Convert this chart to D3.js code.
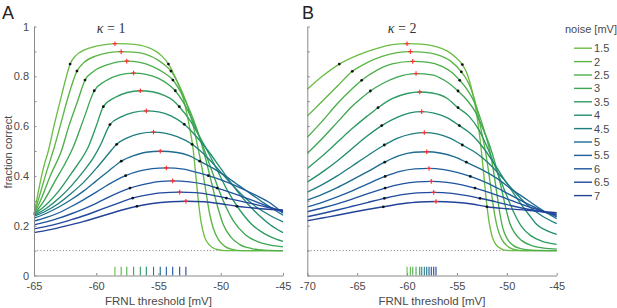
<!DOCTYPE html>
<html><head><meta charset="utf-8">
<script src="https://cdn.jsdelivr.net/npm/d3@7"></script>
<style>body{margin:0;background:#fff}svg{display:block}</style>
</head><body><svg id="c" width="617" height="308"></svg>
<script>
const noise = [1.5,2,2.5,3,3.5,4,4.5,5,5.5,6,6.5,7];
const colors = ["#6cbd45","#5cb646","#4daf4a","#3ca654","#2e9b62","#238d70","#1f7d80","#1d6c90","#1e5e9c","#1f529f","#21499d","#234398"];

const curvesA = [
 [[-65,0.245],[-64.6,0.35],[-64.2,0.44],[-63.85,0.5],[-63.4,0.6],[-62.9,0.7],[-62.5,0.78],[-62.1,0.849],[-61.6,0.885],[-61,0.905],[-60,0.921],[-59,0.929],[-58.5,0.931],[-57.5,0.93],[-56.5,0.925],[-55.8,0.915],[-55.2,0.9],[-54.7,0.88],[-54.2,0.849],[-53.6,0.79],[-53,0.71],[-52.6,0.62],[-52.2,0.5],[-52,0.4],[-51.8,0.3],[-51.6,0.22],[-51.3,0.155],[-50.9,0.122],[-50.4,0.106],[-49.6,0.1],[-45,0.1]],
 [[-65,0.245],[-64.5,0.33],[-64,0.415],[-63.4,0.51],[-62.9,0.6],[-62.3,0.71],[-61.55,0.821],[-61,0.855],[-60,0.882],[-59,0.895],[-58,0.899],[-57,0.897],[-56,0.888],[-55,0.864],[-54.5,0.845],[-54,0.821],[-53.4,0.77],[-52.8,0.7],[-52.3,0.62],[-51.9,0.53],[-51.5,0.43],[-51.2,0.34],[-50.9,0.25],[-50.6,0.19],[-50.2,0.145],[-49.7,0.118],[-49.1,0.105],[-48.3,0.1],[-45,0.1]],
 [[-65,0.245],[-64.4,0.31],[-63.7,0.4],[-62.8,0.5],[-62.2,0.6],[-61.5,0.7],[-60.9,0.785],[-60.2,0.82],[-59,0.848],[-57.55,0.861],[-56.5,0.856],[-55.5,0.84],[-54.5,0.812],[-53.84,0.785],[-53.2,0.735],[-52.5,0.665],[-51.9,0.585],[-51.3,0.485],[-50.8,0.385],[-50.3,0.285],[-49.8,0.205],[-49.2,0.155],[-48.5,0.125],[-47.5,0.108],[-46.5,0.102],[-45,0.1]],
 [[-65,0.245],[-64.2,0.3],[-63.3,0.38],[-62.5,0.45],[-61.9,0.51],[-61,0.63],[-60.16,0.742],[-59.3,0.78],[-58.2,0.805],[-57,0.813],[-56,0.808],[-55,0.792],[-54.2,0.767],[-53.65,0.742],[-53,0.695],[-52.2,0.615],[-51.4,0.515],[-50.6,0.405],[-49.8,0.3],[-49,0.22],[-48,0.163],[-47,0.135],[-46,0.122],[-45,0.115]],
 [[-65,0.245],[-64,0.285],[-63,0.34],[-62,0.41],[-61.3,0.46],[-60.7,0.51],[-60,0.6],[-59.43,0.678],[-58.5,0.715],[-57.5,0.735],[-56.46,0.742],[-55.5,0.738],[-54.5,0.722],[-53.8,0.702],[-53.33,0.678],[-52.5,0.625],[-51.5,0.54],[-50.5,0.445],[-49.5,0.345],[-48.5,0.265],[-47.5,0.205],[-46.5,0.168],[-45.5,0.145],[-45,0.137]],
 [[-65,0.242],[-64,0.27],[-63,0.31],[-62,0.36],[-61,0.42],[-60.2,0.475],[-59.65,0.525],[-58.9,0.606],[-58,0.637],[-57,0.655],[-55.98,0.661],[-55,0.657],[-54,0.641],[-52.93,0.607],[-52,0.56],[-51,0.5],[-50,0.43],[-49,0.36],[-48,0.297],[-47,0.245],[-46,0.203],[-45,0.172]],
 [[-65,0.238],[-64,0.26],[-63,0.29],[-62,0.33],[-61,0.375],[-60,0.43],[-59,0.49],[-58.36,0.527],[-57.5,0.553],[-56.5,0.57],[-55.4,0.576],[-54.5,0.572],[-53.5,0.558],[-52.3,0.527],[-51,0.47],[-50,0.415],[-49,0.36],[-48,0.31],[-47,0.27],[-46,0.24],[-45,0.215]],
 [[-65,0.23],[-64,0.25],[-63,0.275],[-62,0.305],[-61,0.34],[-60,0.38],[-59,0.42],[-57.99,0.459],[-57,0.481],[-56,0.495],[-54.86,0.499],[-53.5,0.494],[-52.5,0.48],[-51.69,0.459],[-50.5,0.427],[-49.5,0.395],[-48.5,0.36],[-47.5,0.325],[-46.5,0.29],[-45.5,0.258],[-45,0.242]],
 [[-65,0.218],[-64,0.233],[-63,0.252],[-62,0.277],[-61,0.305],[-60,0.335],[-59,0.366],[-57.64,0.401],[-56.5,0.42],[-55.5,0.429],[-54.37,0.432],[-53,0.427],[-52,0.415],[-51,0.401],[-49.5,0.375],[-48,0.342],[-47,0.318],[-46,0.29],[-45,0.25]],
 [[-65,0.203],[-64,0.215],[-63,0.23],[-62,0.248],[-61,0.268],[-60,0.29],[-59,0.315],[-57.29,0.351],[-56,0.368],[-55,0.377],[-53.86,0.38],[-52.5,0.376],[-51.3,0.366],[-50.28,0.351],[-49,0.33],[-48,0.312],[-47,0.293],[-46,0.274],[-45,0.255]],
 [[-65,0.187],[-64,0.197],[-63,0.209],[-62,0.224],[-61,0.24],[-60,0.258],[-59,0.277],[-58,0.295],[-57.07,0.311],[-56,0.323],[-54.8,0.332],[-53.3,0.335],[-52,0.333],[-50.8,0.324],[-49.55,0.311],[-48,0.294],[-47,0.283],[-46,0.271],[-45,0.259]],
 [[-65,0.172],[-64,0.181],[-63,0.192],[-62,0.204],[-61,0.217],[-60,0.232],[-59,0.247],[-58,0.262],[-56.73,0.278],[-55.5,0.289],[-54,0.296],[-52.8,0.298],[-51.3,0.296],[-50,0.288],[-48.7,0.278],[-47.5,0.272],[-46.5,0.267],[-45,0.263]]
];
const peaksA = [[-58.5,0.931],[-58,0.899],[-57.55,0.861],[-57,0.813],[-56.46,0.742],[-55.98,0.661],[-55.4,0.576],[-54.86,0.499],[-54.37,0.432],[-53.86,0.38],[-53.3,0.335],[-52.8,0.298]];
const dotsLeftA = [[-62.1,0.849],[-61.55,0.821],[-60.9,0.785],[-60.16,0.742],[-59.43,0.678],[-58.9,0.606],[-58.36,0.527],[-57.99,0.459],[-57.64,0.401],[-57.29,0.351],[-57.07,0.311],[-56.73,0.278]];
const dotsRightA = [[-54.2,0.849],[-54,0.821],[-53.84,0.785],[-53.65,0.742],[-53.33,0.678],[-52.93,0.607],[-52.3,0.527],[-51.69,0.459],[-51,0.401],[-50.28,0.351],[-49.55,0.311],[-48.7,0.278]];

const curvesB = [
 [[-70,0.748],[-68.5,0.8],[-66.79,0.849],[-65,0.884],[-63,0.912],[-61.5,0.927],[-60,0.931],[-58.5,0.929],[-57,0.918],[-56,0.902],[-55.2,0.879],[-54.46,0.847],[-54,0.812],[-53.6,0.76],[-53.2,0.69],[-52.85,0.6],[-52.55,0.5],[-52.3,0.4],[-52.05,0.3],[-51.8,0.22],[-51.5,0.16],[-51.1,0.125],[-50.6,0.108],[-50,0.101],[-49.2,0.1],[-45,0.1]],
 [[-70,0.64],[-68.5,0.7],[-67,0.76],[-65.49,0.82],[-64,0.855],[-62.5,0.88],[-61,0.895],[-59.67,0.899],[-58.5,0.897],[-57,0.887],[-55.6,0.86],[-54.56,0.818],[-54,0.785],[-53.5,0.74],[-53,0.67],[-52.6,0.59],[-52.15,0.5],[-51.8,0.41],[-51.5,0.32],[-51.2,0.24],[-50.9,0.185],[-50.5,0.145],[-50,0.12],[-49.3,0.105],[-48.3,0.1],[-45,0.1]],
 [[-70,0.555],[-68.5,0.62],[-67,0.69],[-65.5,0.75],[-64.55,0.784],[-63,0.825],[-61.5,0.85],[-59.43,0.86],[-58,0.857],[-56.5,0.84],[-55.5,0.815],[-54.72,0.784],[-54,0.748],[-53.3,0.7],[-52.6,0.625],[-52.1,0.56],[-51.65,0.49],[-51.3,0.41],[-51,0.33],[-50.7,0.25],[-50.4,0.19],[-50,0.15],[-49.4,0.122],[-48.6,0.108],[-47.5,0.102],[-45,0.1]],
 [[-70,0.49],[-68.5,0.55],[-67,0.615],[-65.5,0.68],[-64.5,0.715],[-63.68,0.741],[-62.5,0.77],[-61,0.797],[-59.1,0.811],[-57.5,0.806],[-56.3,0.785],[-54.89,0.741],[-54,0.705],[-53.2,0.66],[-52.4,0.59],[-51.7,0.52],[-51.1,0.44],[-50.6,0.36],[-50.1,0.27],[-49.7,0.21],[-49.2,0.17],[-48.5,0.14],[-47.5,0.12],[-46.3,0.11],[-45,0.106]],
 [[-70,0.43],[-68.5,0.48],[-67,0.535],[-65.5,0.59],[-64,0.64],[-62.91,0.674],[-61.5,0.71],[-60,0.731],[-58.73,0.737],[-57.5,0.733],[-56,0.712],[-54.89,0.674],[-53.8,0.64],[-52.8,0.585],[-51.8,0.5],[-50.9,0.41],[-50,0.32],[-49.2,0.245],[-48.5,0.195],[-47.6,0.16],[-46.5,0.138],[-45,0.125]],
 [[-70,0.375],[-68.5,0.415],[-67,0.46],[-65.5,0.51],[-64,0.56],[-62.54,0.602],[-61,0.635],[-59.7,0.653],[-58.53,0.658],[-57.3,0.652],[-56,0.634],[-54.76,0.602],[-53.5,0.565],[-52.3,0.51],[-51.2,0.445],[-50,0.37],[-48.8,0.3],[-47.8,0.245],[-47,0.205],[-46,0.18],[-45,0.165]],
 [[-70,0.335],[-68.5,0.365],[-67,0.4],[-65.5,0.44],[-64,0.48],[-62.28,0.524],[-61,0.551],[-59.5,0.569],[-58.27,0.574],[-57,0.569],[-55.7,0.552],[-54.46,0.524],[-53,0.49],[-51.8,0.45],[-50.5,0.395],[-49.2,0.335],[-48,0.285],[-46.5,0.24],[-45,0.208]],
 [[-70,0.303],[-68.5,0.326],[-67,0.353],[-65.5,0.384],[-64,0.416],[-62.24,0.455],[-60.8,0.481],[-59.3,0.495],[-58.03,0.497],[-56.7,0.492],[-55.3,0.477],[-54.06,0.455],[-52.5,0.425],[-51,0.39],[-49.5,0.346],[-48,0.305],[-46.5,0.264],[-45,0.228]],
 [[-70,0.276],[-68.5,0.294],[-67,0.316],[-65.5,0.34],[-64,0.367],[-62.2,0.398],[-60.7,0.418],[-59.2,0.428],[-57.8,0.43],[-56.3,0.425],[-54.9,0.413],[-53.66,0.398],[-52,0.372],[-50.5,0.342],[-49,0.31],[-47.5,0.28],[-46,0.253],[-45,0.235]],
 [[-70,0.256],[-68.5,0.271],[-67,0.288],[-65.5,0.307],[-64,0.328],[-62.2,0.351],[-60.5,0.368],[-59,0.376],[-57.57,0.378],[-56,0.374],[-54.5,0.364],[-53.19,0.351],[-51.5,0.33],[-50,0.308],[-48.5,0.286],[-47,0.266],[-45,0.241]],
 [[-70,0.236],[-68.5,0.249],[-67,0.263],[-65.5,0.278],[-64,0.293],[-62.28,0.31],[-60.5,0.325],[-59,0.332],[-57.33,0.334],[-55.5,0.33],[-54,0.321],[-52.69,0.31],[-51,0.295],[-49.5,0.28],[-48,0.267],[-46.5,0.256],[-45,0.246]],
 [[-70,0.22],[-68.5,0.231],[-67,0.242],[-65.5,0.254],[-64,0.265],[-62.38,0.276],[-60.5,0.288],[-58.8,0.295],[-57.1,0.297],[-55.2,0.294],[-53.5,0.287],[-51.99,0.276],[-50,0.268],[-48,0.262],[-46.5,0.257],[-45,0.252]]
];
const peaksB = [[-60,0.931],[-59.67,0.899],[-59.43,0.86],[-59.1,0.811],[-58.73,0.737],[-58.53,0.658],[-58.27,0.574],[-58.03,0.497],[-57.8,0.43],[-57.57,0.378],[-57.33,0.334],[-57.1,0.297]];
const dotsLeftB = [[-66.79,0.849],[-65.49,0.82],[-64.55,0.784],[-63.68,0.741],[-62.91,0.674],[-62.54,0.602],[-62.28,0.524],[-62.24,0.455],[-62.2,0.398],[-62.2,0.351],[-62.28,0.31],[-62.38,0.276]];
const dotsRightB = [[-54.46,0.847],[-54.56,0.818],[-54.72,0.784],[-54.89,0.741],[-54.89,0.674],[-54.76,0.602],[-54.46,0.524],[-54.06,0.455],[-53.66,0.398],[-53.19,0.351],[-52.69,0.31],[-51.99,0.276]];

const xTicksA = [-65,-60,-55,-50,-45];
const xTicksB = [-70,-65,-60,-55,-50,-45];
const yTicks = [0,0.1,0.2,0.3,0.4,0.5,0.6,0.7,0.8,0.9,1];
const yLabelTicks = [0,0.2,0.4,0.6,0.8,1];
const chance = 0.1;

const svg = d3.select("#c");
const FONT = "'Liberation Sans', Arial, Helvetica, sans-serif";
const axisCol = "#8a8a8a", textCol = "#4a4a4a";
const y = d3.scaleLinear().domain([0,1]).range([275.5,26.5]);

function panel(opts){
  const x = d3.scaleLinear().domain(opts.xdom).range(opts.xr);
  const g = svg.append("g");
  // chance line
  g.append("line").attr("x1",x(opts.xdom[0])).attr("x2",x(opts.xdom[1]))
    .attr("y1",y(chance)).attr("y2",y(chance))
    .attr("stroke","#8c8c8c").attr("stroke-width",1).attr("stroke-dasharray","1.2,2");
  // rug ticks at peak positions
  g.selectAll("line.rug").data(opts.peaks).join("line").attr("class","rug")
    .attr("x1",d=>x(d[0])).attr("x2",d=>x(d[0]))
    .attr("y1",y(0)).attr("y2",y(0.035))
    .attr("stroke",(d,i)=>colors[i]).attr("stroke-width",1.1);
  const line = d3.line().x(d=>x(d[0])).y(d=>y(d[1])).curve(d3.curveMonotoneX);
  g.selectAll("path.curve").data(opts.curves).join("path").attr("class","curve")
    .attr("d",line).attr("fill","none")
    .attr("stroke",(d,i)=>colors[i]).attr("stroke-width",1.35);
  const dots = opts.dotsL.concat(opts.dotsR);
  g.selectAll("circle.dot").data(dots).join("circle").attr("class","dot")
    .attr("cx",d=>x(d[0])).attr("cy",d=>y(d[1])).attr("r",1.4).attr("fill","#111");
  const plus = g.selectAll("g.plus").data(opts.peaks).join("g").attr("class","plus")
    .attr("transform",d=>`translate(${x(d[0])},${y(d[1])})`);
  plus.append("line").attr("x1",-2.3).attr("x2",2.3).attr("stroke","#ff2a2a").attr("stroke-width",1.1);
  plus.append("line").attr("y1",-2.3).attr("y2",2.3).attr("stroke","#ff2a2a").attr("stroke-width",1.1);

  // axes
  const ya = d3.axisLeft(y).tickValues(yTicks).tickSizeInner(-2.5).tickSizeOuter(0).tickPadding(5)
    .tickFormat(d => opts.yLabels && yLabelTicks.some(t=>Math.abs(t-d)<1e-9) ? String(+d.toFixed(1)) : "");
  const yg = g.append("g").attr("transform",`translate(${opts.xr[0]},0)`).call(ya);
  const xa = d3.axisBottom(x).tickValues(opts.xticks).tickSizeInner(-2.5).tickSizeOuter(0).tickPadding(7)
    .tickFormat(d=>String(d));
  const xg = g.append("g").attr("transform",`translate(0,${y(0)})`).call(xa);
  [yg,xg].forEach(a=>{
    a.select(".domain").attr("stroke",axisCol);
    a.selectAll(".tick line").attr("stroke",axisCol);
    a.selectAll("text").attr("fill",textCol).style("font-family",FONT).style("font-size","11px");
  });
  g.append("text").attr("x",(opts.xr[0]+opts.xr[1])/2).attr("y",304.5).attr("text-anchor","middle")
    .attr("fill",textCol).style("font-family",FONT).style("font-size","11.5px").text("FRNL threshold [mV]");
  const t = g.append("text").attr("x",x(opts.titleX)).attr("y",32.7).attr("text-anchor","middle")
    .attr("fill","#333").style("font-family","'Liberation Serif','DejaVu Serif',serif").style("font-size","14px");
  t.append("tspan").style("font-style","italic").text("κ");
  t.append("tspan").text(" = " + opts.kappa);
  g.append("text").attr("x",opts.letterX).attr("y",18.5).attr("fill","#222")
    .style("font-family",FONT).style("font-size","18px").text(opts.letter);
}

panel({xdom:[-65,-45], xr:[34,283], curves:curvesA, peaks:peaksA, dotsL:dotsLeftA, dotsR:dotsRightA,
  xticks:xTicksA, yLabels:true, titleX:-58.8, kappa:1, letter:"A", letterX:2});
panel({xdom:[-70,-45], xr:[307.3,556.7], curves:curvesB, peaks:peaksB, dotsL:dotsLeftB, dotsR:dotsRightB,
  xticks:xTicksB, yLabels:false, titleX:-60.5, kappa:2, letter:"B", letterX:302});

svg.append("text").attr("transform","translate(11.5,152) rotate(-90)").attr("text-anchor","middle")
  .attr("fill",textCol).style("font-family",FONT).style("font-size","11px").text("fraction correct");

// legend
const lg = svg.append("g");
lg.append("text").attr("x",565).attr("y",33).attr("fill",textCol)
  .style("font-family",FONT).style("font-size","11px").text("noise [mV]");
const items = lg.selectAll("g.item").data(noise).join("g").attr("class","item")
  .attr("transform",(d,i)=>`translate(0,${48.2 + i*13.4})`);
items.append("line").attr("x1",574).attr("x2",592).attr("stroke",(d,i)=>colors[i]).attr("stroke-width",1.4);
items.append("text").attr("x",594).attr("y",4).attr("fill",textCol)
  .style("font-family",FONT).style("font-size","11px").text(d=>String(d));
</script></body></html>
